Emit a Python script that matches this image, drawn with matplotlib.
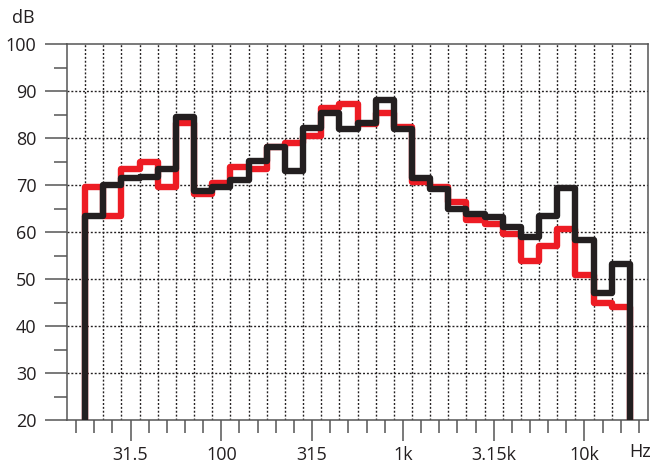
import numpy as np
import matplotlib
matplotlib.use("Agg")
import matplotlib.pyplot as plt
from matplotlib.ticker import FixedLocator, NullFormatter

plt.rcParams['font.family'] = ['Open Sans', 'DejaVu Sans']

# third-octave band index relative to 1 kHz (k: f = 1000 * 2^(k/3))
band_k = np.arange(-17, 13)          # 20 Hz ... 16 kHz
red_db = [69.5, 63.3, 73.5, 74.9, 69.5, 83.2, 68.1, 70.4, 73.8, 73.4,
          78.0, 78.9, 80.5, 86.3, 87.3, 82.9, 85.3, 82.3, 70.6, 69.6,
          66.3, 62.6, 61.7, 59.6, 53.9, 57.0, 60.6, 50.8, 44.9, 44.1]
black_db = [63.4, 69.9, 71.5, 71.6, 73.5, 84.5, 68.8, 69.6, 71.0, 75.1,
            78.1, 72.9, 82.1, 85.3, 82.0, 83.2, 88.0, 82.0, 71.4, 69.1,
            64.9, 63.8, 63.1, 61.0, 58.9, 63.3, 69.4, 58.2, 47.0, 53.1]

tick_k = np.arange(-18, 14)          # 16 Hz ... 20 kHz
label_k = [-15, -10, -5, 0, 5, 10]
label_txt = ['31.5', '100', '315', '1k', '3.15k', '10k']

y_major = [20, 30, 40, 50, 60, 70, 80, 90, 100]

def freq(k):
    return 1000.0 * 2.0 ** (np.asarray(k, dtype=float) / 3.0)

edges = freq(np.append(band_k - 0.5, band_k[-1] + 0.5))

fig = plt.figure(figsize=(6.53, 4.63), dpi=100)
ax = fig.add_axes([67/653, 43/463, 581/653, 376/463])

ink = '#231f20'
ax.stairs(red_db, edges, baseline=20, color='#ed1c24', lw=4.6,
          joinstyle='round', zorder=3)
ax.stairs(black_db, edges, baseline=20, color=ink, lw=4.6,
          joinstyle='round', zorder=4)

ax.set_xscale('log')
ax.set_xlim(freq(tick_k[0] - 0.5), freq(tick_k[-1] + 0.5))
ax.set_ylim(20, 100)

# grid: horizontal at 10 dB, vertical at band edges
for v in y_major[1:-1]:
    ax.axhline(v, color=ink, lw=1.0, ls=(0, (1.4, 1.4)), zorder=1)
for e in freq(tick_k[:-1] + 0.5):
    ax.axvline(e, color=ink, lw=1.0, ls=(0, (1.4, 1.4)), zorder=1)

ax.xaxis.set_major_locator(FixedLocator(freq(label_k)))
ax.xaxis.set_minor_locator(FixedLocator(freq(tick_k)))
ax.set_xticklabels(label_txt)
ax.xaxis.set_minor_formatter(NullFormatter())

ax.set_yticks(y_major)
ax.set_yticks(np.arange(25, 100, 10), minor=True)

for s in ax.spines.values():
    s.set_color('#555555')
    s.set_linewidth(1.1)

ax.tick_params(axis='x', which='major', length=15, width=1.1, color='#555555',
               pad=4, labelsize=13, labelcolor=ink)
ax.tick_params(axis='x', which='minor', length=9, width=1.1, color='#555555')
ax.tick_params(axis='y', which='major', length=16, width=1.1, color='#555555',
               pad=6, labelsize=13, labelcolor=ink)
ax.tick_params(axis='y', which='minor', length=9.5, width=1.1, color='#555555')

fig.text(23/653, 1 - 18/463, 'dB', fontsize=13, color=ink, ha='center', va='center')
fig.text(651/653, 1 - 452/463, 'Hz', fontsize=13, color=ink, ha='right', va='center')

fig.savefig('out.png', dpi=100)
